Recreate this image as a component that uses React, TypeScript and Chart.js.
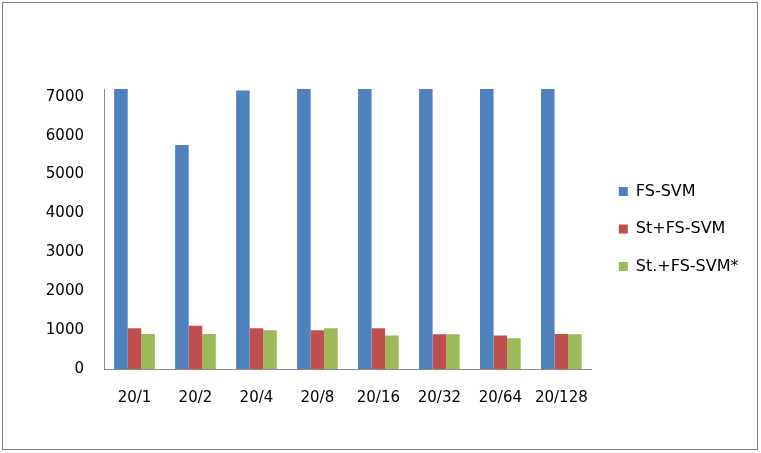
import React, { useEffect, useRef } from "react";
import { Chart, registerables } from "chart.js";

Chart.register(...registerables);

const categories = ["20/1", "20/2", "20/4", "20/8", "20/16", "20/32", "20/64", "20/128"];
const seriesNames = ["FS-SVM", "St+FS-SVM", "St.+FS-SVM*"];
const fsSvm = [7200, 5760, 7160, 7200, 7200, 7200, 7200, 7200];
const stFsSvm = [1050, 1115, 1050, 995, 1050, 895, 860, 900];
const stDotFsSvm = [900, 900, 995, 1050, 860, 895, 790, 895];
const seriesColors = ["#4F81BD", "#C0504D", "#9BBB59"];
const yTickValues = [0, 1000, 2000, 3000, 4000, 5000, 6000, 7000];
const yMin = 0;
const yMax = 7200;

const FONT = "'DejaVu Sans', sans-serif";

const legendShift = {
  id: "legendShift",
  afterLayout(chart: any) {
    const lg = chart.legend;
    if (lg) {
      lg.left += 5.5;
      lg.right += 5.5;
    }
  },
};

export default function App() {
  const ref = useRef<HTMLCanvasElement | null>(null);

  useEffect(() => {
    if (!ref.current) return;
    const values = [fsSvm, stFsSvm, stDotFsSvm];
    const chart = new Chart(ref.current, {
      type: "bar",
      data: {
        labels: categories,
        datasets: values.map((v, i) => ({
          label: seriesNames[i],
          data: v,
          backgroundColor: seriesColors[i],
          borderWidth: 0,
          categoryPercentage: 0.667,
          barPercentage: 1,
        })),
      },
      plugins: [legendShift],
      options: {
        responsive: false,
        animation: false,
        events: [],
        layout: { padding: { top: 89, left: 0, right: 18, bottom: 0 } },
        scales: {
          x: {
            grid: { display: false, drawTicks: false },
            border: { display: true, color: "#8c8c8c", width: 1 },
            ticks: { color: "#000", font: { family: FONT, size: 15 }, padding: 20, maxRotation: 0, autoSkip: false },
            afterFit: (s: any) => { s.height = 84; },
          },
          y: {
            min: yMin,
            max: yMax,
            grid: { display: false, drawTicks: false },
            border: { display: true, color: "#8c8c8c", width: 1 },
            ticks: {
              color: "#000",
              font: { family: FONT, size: 15 },
              padding: 20,
              callback: (v: any) => String(v),
            },
            afterBuildTicks: (s: any) => { s.ticks = yTickValues.map((v) => ({ value: v })); },
            afterFit: (s: any) => { s.width = 104; },
          },
        },
        plugins: {
          tooltip: { enabled: false },
          title: { display: false },
          legend: {
            position: "right",
            fullSize: false,
            labels: {
              boxWidth: 9,
              boxHeight: 9,
              padding: 21.5,
              color: "#000",
              font: { family: FONT, size: 16 },
            },
          },
        },
      },
    } as any);
    return () => chart.destroy();
  }, []);

  return (
    <div style={{ position: "fixed", left: 0, top: 0, width: 761, height: 453, background: "#fff" }}>
      <canvas ref={ref} width={761} height={453} style={{ position: "absolute", left: 0, top: 0, width: 761, height: 453 }} />
      <div
        style={{
          position: "absolute",
          left: 2,
          top: 2,
          width: 756,
          height: 448,
          border: "1px solid #7f7f7f",
          boxSizing: "border-box",
          pointerEvents: "none",
        }}
      />
    </div>
  );
}
